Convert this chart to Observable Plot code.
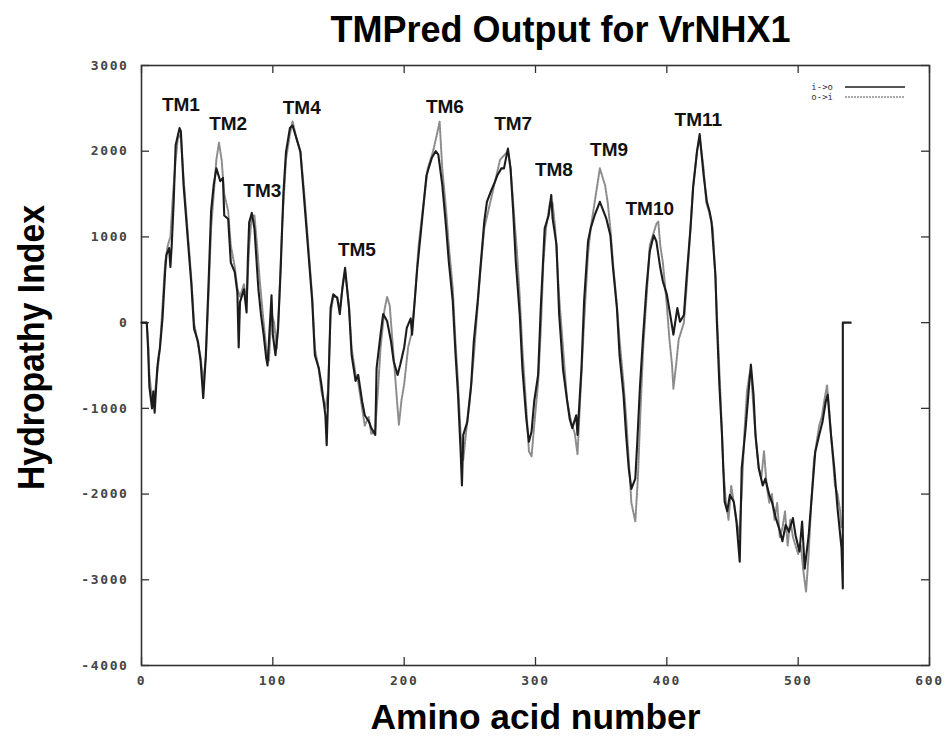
<!DOCTYPE html>
<html>
<head>
<meta charset="utf-8">
<script src="https://cdn.jsdelivr.net/npm/d3@7"></script>
<script src="https://cdn.jsdelivr.net/npm/@observablehq/plot@0.6"></script>
<style>
  html, body { margin: 0; padding: 0; background: #fff; }
  #chart svg { display: block; }
  #chart svg [aria-label$="tick label"] text { letter-spacing: 1.6px; }
</style>
</head>
<body>
<div id="chart"></div>
<script>
// ---- Data ----
const title = "TMPred Output for VrNHX1";
const xLabel = "Amino acid number";
const yLabel = "Hydropathy Index";
const xTicks = [0, 100, 200, 300, 400, 500, 600];
const yTicks = [3000, 2000, 1000, 0, -1000, -2000, -3000, -4000];
const legendNames = ["i->o", "o->i"];

// i->o (solid) : residue positions and hydropathy values
const ioPos = [0,4,5,6,8,9,10,12,13,14,16,18,19,21,22,23,24.5,26,29,30,32,35,38,40,43,45,47,49,51,53,55,57,58,60,62,63,66,68,71,73,74,75,78,80,81,82,84,86,89,91,93,95,96,99,100,102,104,106,108,110,113,115,118,121,124,127,130,132,135,137,140,141,142,144,146,149,151,153,155,158,160,163,165,168,170,173,175,178,179,182,184,187,190,192,195,197,200,202,205,206,210,213,217,221,224,226,229,232,234,237,239,241,243,244,245,248,251,253,256,258,261,263,266,269,271,274,276,279,281,283,285,288,290,293,295,297,299,302,304,307,310,312,313,316,318,321,324,326,328,331,332,335,337,340,342,345,349,351,354,357,359,362,364,367,369,371,373,376,377.5,379.5,382,384.5,387,390,392,395,397,400,402.5,405,408,410,413,415,418,420,423,425,428,430.5,432.5,434,437,438,440,442,444,446,448,451,453,455.5,457,460,462.5,464,466,467.5,470,473,475,478,480,483,485.5,488,490.5,493,496,498,501,503,505,508,511,513,516,518.5,521,522.5,525,527.5,530,533,534,534,540];
const ioVal = [0,0,-300,-750,-1000,-800,-1050,-530,-400,-300,50,600,790,870,650,900,1410,2070,2270,2230,1610,1020,440,-70,-220,-450,-880,-380,440,1300,1610,1800,1750,1650,1690,1250,1210,700,590,350,-290,240,390,120,750,1170,1280,1100,390,90,-140,-420,-500,320,-140,-380,-70,640,1490,1990,2270,2300,2150,1990,1410,830,250,-380,-530,-720,-1080,-1430,-920,170,330,290,100,410,640,170,-380,-680,-610,-920,-1080,-1150,-1230,-1310,-530,-140,100,20,-220,-450,-610,-490,-290,-60,50,-140,640,1100,1720,1920,2000,1960,1610,1100,710,250,-340,-840,-1510,-1900,-1310,-1160,-730,-220,250,630,1180,1410,1530,1640,1720,1800,1800,2030,1800,1300,710,90,-530,-1120,-1390,-1270,-920,-610,170,1100,1250,1490,1220,910,100,-550,-900,-1120,-1230,-1080,-1310,-530,250,950,1100,1250,1410,1330,1210,1020,640,170,-380,-840,-1310,-1700,-1940,-1820,-1390,-760,-140,410,830,1020,950,640,480,330,100,-140,170,10,90,520,1100,1570,2000,2200,1720,1410,1300,1180,560,50,-730,-1310,-2090,-2200,-2010,-2090,-2320,-2790,-1700,-1230,-760,-490,-840,-1310,-1700,-1900,-1820,-2010,-2090,-2280,-2400,-2550,-2360,-2440,-2280,-2480,-2670,-2320,-2870,-2480,-1900,-1510,-1310,-1160,-920,-840,-1310,-1700,-2170,-2630,-3100,0,0];

// o->i (dotted) : residue positions and hydropathy values
const oiPos = [0,4,5,6,8,10,12,14,16,18,20,22,24,26,28,30,32,35,38,40,43,45,47,49,51,53,55,57,59,61,63,66,68,71,73,75,78,80,82,84,86,88,90,93,95,97,99,101,103,105,107,110,113,115,118,121,124,127,130,132,135,137,140,142,144,146,149,151,153,155,158,160,163,165,168,170,173,175,178,180,182,185,187,189,191,193,195,196,198,200,203,206,208,211,214,218,222,225,227,229,232,234,237,239,241,243,245,247,250,253,256,258,261,264,267,270,273,276,279,281,283,286,288,290,293,295,297,299,302,304,306,308,311,313,315,318,321,324,327,330,332,334,337,340,342,345,347,349,351,353,355,357,359,362,364,367,369,371,373,375,376,378,380,382,385,387,390,392,393.5,395,397,400,402,404,405,407,409,411,413,415,418,420,423,425,428,430,432,435,437,439,441,443,445,447,449,451,453,455,457,459,461,463,464,466,468,470,472,474,476,478,480,482,484,486,488,490,492,494,496,498,500,502,504,506,508,510,512,514,516,518,520,522,524,526,528,530,532,533];
const oiVal = [0,0,-200,-600,-900,-850,-600,-300,200,700,900,1000,1500,1900,2200,2150,1700,1100,500,0,-250,-400,-700,-400,300,1100,1500,1900,2100,1900,1500,1300,900,650,400,300,450,250,900,1250,1250,900,500,0,-300,-450,100,0,-300,300,1100,1900,2200,2350,2150,2000,1500,900,300,-300,-550,-800,-1000,-800,100,300,300,150,400,600,200,-300,-600,-700,-1000,-1200,-1100,-1300,-1250,-800,-300,150,300,200,-200,-600,-1000,-1190,-900,-720,-290,-100,250,900,1300,1800,2000,2200,2345,1800,1300,900,400,-200,-700,-1300,-1600,-1300,-900,-400,200,600,1100,1300,1500,1700,1900,1950,2000,1800,1400,800,300,-300,-1000,-1500,-1560,-1200,-700,-100,700,1100,1400,1400,1100,300,-300,-900,-1150,-1300,-1540,-900,0,800,1100,1400,1600,1800,1700,1600,1400,1100,700,200,-200,-700,-1100,-1600,-2100,-2250,-2320,-1800,-1000,-300,400,900,1050,1150,1180,900,700,200,-200,-500,-770,-500,-200,-100,0,400,1100,1600,2000,2150,1800,1400,1300,1100,500,-200,-900,-1700,-2100,-2300,-1900,-2100,-2300,-2500,-2000,-1300,-800,-600,-550,-1000,-1400,-1700,-1800,-1500,-1900,-2100,-2000,-2300,-2100,-2500,-2400,-2200,-2600,-2300,-2500,-2600,-2700,-2600,-2900,-3140,-2700,-2100,-1600,-1400,-1200,-1100,-900,-730,-1100,-1500,-1900,-2000,-2200,-2400];

// TM segment annotations
const tmNames = ["TM1","TM2","TM3","TM4","TM5","TM6","TM7","TM8","TM9","TM10","TM11"];
const tmPos   = [30, 66, 92, 122, 164, 231, 283, 314, 356, 387, 424];
const tmVal   = [2545, 2320, 1540, 2510, 850, 2520, 2320, 1785, 2020, 1330, 2370];

// ---- Build tables ----
const io = ioPos.map((p, i) => ({pos: p, val: ioVal[i]}));
const oi = oiPos.map((p, i) => ({pos: p, val: oiVal[i]}));
const tms = tmNames.map((n, i) => ({name: n, pos: tmPos[i], val: tmVal[i]}));

const W = 946, H = 745;
const mL = 141, mR = 17, mT = 65, mB = 80;
const fw = W - mL - mR, fh = H - mT - mB;
const tickLen = 8;
const mono = "'DejaVu Sans Mono', 'Liberation Mono', monospace";
const sans = "'Liberation Sans', Arial, sans-serif";

const chart = Plot.plot({
  width: W, height: H,
  marginLeft: mL, marginRight: mR, marginTop: mT, marginBottom: mB,
  style: {background: "#fff", overflow: "visible"},
  x: {domain: [0, 600], ticks: xTicks},
  y: {domain: [-4000, 3000], ticks: yTicks},
  marks: [
    // inward ticks on all four sides
    Plot.tickY(yTicks, {y: d => d, insetRight: fw - tickLen, stroke: "#333", strokeWidth: 1.3}),
    Plot.tickY(yTicks, {y: d => d, insetLeft: fw - tickLen, stroke: "#333", strokeWidth: 1.3}),
    Plot.tickX(xTicks, {x: d => d, insetTop: fh - tickLen, stroke: "#333", strokeWidth: 1.3}),
    Plot.tickX(xTicks, {x: d => d, insetBottom: fh - tickLen, stroke: "#333", strokeWidth: 1.3}),
    Plot.frame({stroke: "#333", strokeWidth: 1.6}),
    Plot.axisY(yTicks, {tickSize: 0, tickPadding: 13, label: null, fontFamily: mono, fontSize: 13, fontWeight: "bold", fill: "#444", tickFormat: d => String(d)}),
    Plot.axisX(xTicks, {tickSize: 0, tickPadding: 10, label: null, fontFamily: mono, fontSize: 13, fontWeight: "bold", fill: "#444", tickFormat: d => String(d)}),
    // series
    Plot.line(oi, {x: "pos", y: "val", stroke: "#8c8c8c", strokeWidth: 2, strokeDasharray: "2,1.2"}),
    Plot.line(io, {x: "pos", y: "val", stroke: "#1c1c1c", strokeWidth: 2.1}),
    // TM annotations
    Plot.text(tms, {x: "pos", y: "val", text: "name", fontFamily: sans, fontWeight: "bold", fontSize: 19, fill: "#111"}),
    // title and axis titles
    Plot.text([title], {frameAnchor: "top", textAnchor: "middle", lineAnchor: "middle", dx: 25, dy: -35, fontFamily: sans, fontWeight: "bold", fontSize: 36, fill: "#000", className: "ttl"}),
    Plot.text([xLabel], {frameAnchor: "bottom", textAnchor: "middle", lineAnchor: "middle", dx: 0, dy: 52, fontFamily: sans, fontWeight: "bold", fontSize: 35, fill: "#000", className: "xl"}),
    Plot.text([yLabel], {frameAnchor: "left", textAnchor: "middle", lineAnchor: "middle", dx: -109, dy: -18, rotate: -90, fontFamily: sans, fontWeight: "bold", fontSize: 36, fill: "#000", className: "yl"})
  ]
});

// condense the big titles (narrow bold face in the reference)
const svg = d3.select(chart);
svg.select("g.ttl text").attr("textLength", 460).attr("lengthAdjust", "spacingAndGlyphs");
svg.select("g.xl text").attr("textLength", 330).attr("lengthAdjust", "spacingAndGlyphs");
svg.select("g.yl text").attr("textLength", 285).attr("lengthAdjust", "spacingAndGlyphs");

// legend (top-right, inside the frame)
const lg = svg.append("g").attr("font-family", mono).attr("font-size", 9).attr("fill", "#333");
const lx = W - mR - 96, ly = mT + 22;
legendNames.forEach((name, i) => {
  const y = ly + i * 10;
  lg.append("text").attr("x", lx).attr("y", y).attr("text-anchor", "end").attr("dy", "0.35em").text(name);
  lg.append("line").attr("x1", lx + 12).attr("x2", lx + 72).attr("y1", y).attr("y2", y)
    .attr("stroke", i === 0 ? "#1c1c1c" : "#8c8c8c").attr("stroke-width", i === 0 ? 1.6 : 1.4)
    .attr("stroke-dasharray", i === 0 ? null : "2,1");
});

document.getElementById("chart").appendChild(chart);
</script>
</body>
</html>
